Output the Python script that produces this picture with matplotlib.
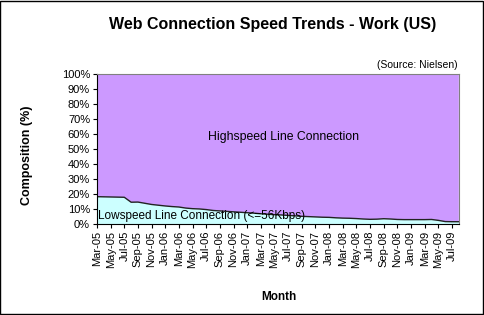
import matplotlib.pyplot as plt
from matplotlib.patches import Rectangle

plt.rcParams['font.family'] = ['Liberation Sans', 'DejaVu Sans']

# monthly, Mar-05 .. Aug-09
months = ['Mar-05', 'Apr-05', 'May-05', 'Jun-05', 'Jul-05', 'Aug-05', 'Sep-05', 'Oct-05', 'Nov-05', 'Dec-05',
          'Jan-06', 'Feb-06', 'Mar-06', 'Apr-06', 'May-06', 'Jun-06', 'Jul-06', 'Aug-06', 'Sep-06', 'Oct-06',
          'Nov-06', 'Dec-06', 'Jan-07', 'Feb-07', 'Mar-07', 'Apr-07', 'May-07', 'Jun-07', 'Jul-07', 'Aug-07',
          'Sep-07', 'Oct-07', 'Nov-07', 'Dec-07', 'Jan-08', 'Feb-08', 'Mar-08', 'Apr-08', 'May-08', 'Jun-08',
          'Jul-08', 'Aug-08', 'Sep-08', 'Oct-08', 'Nov-08', 'Dec-08', 'Jan-09', 'Feb-09', 'Mar-09', 'Apr-09',
          'May-09', 'Jun-09', 'Jul-09', 'Aug-09']
lowspeed = [18.2, 18.1, 18.0, 17.9, 17.8, 14.5, 14.6, 13.8, 13.0, 12.5,
            12.0, 11.6, 11.3, 10.6, 10.2, 10.0, 9.6, 9.0, 8.7, 8.4,
            8.1, 7.8, 7.5, 7.2, 6.8, 6.5, 6.2, 6.0, 5.7, 5.4,
            5.1, 4.9, 4.7, 4.5, 4.4, 4.1, 3.9, 3.8, 3.6, 3.3,
            3.1, 3.2, 3.5, 3.3, 3.0, 2.9, 2.9, 2.9, 2.9, 3.0,
            2.4, 1.6, 1.5, 1.5]
highspeed = [100 - v for v in lowspeed]

fig = plt.figure(figsize=(4.84, 3.15), dpi=100)
ax = fig.add_axes([0.2004, 0.289, 0.7476, 0.476])

x = list(range(len(months)))
ax.stackplot(x, lowspeed, highspeed, colors=['#CCFFFF', '#CC99FF'], linewidth=0)
ax.plot(x, lowspeed, color='#222222', lw=1)

ax.set_xlim(0, len(months) - 1)
ax.set_ylim(0, 100)
ax.set_yticks(range(0, 101, 10))
ax.set_yticklabels([f'{v}%' for v in range(0, 101, 10)], fontsize=8)
ax.set_xticks(x[::2])
ax.set_xticklabels(months[::2], rotation=90, fontsize=8)
ax.tick_params(axis='both', direction='out', length=3, width=0.8, pad=2)
for s in ['top', 'right']:
    ax.spines[s].set_color('#808080')
for s in ['left', 'bottom']:
    ax.spines[s].set_color('black')

ax.text(0.515, 0.58, 'Highspeed Line Connection', transform=ax.transAxes, ha='center', va='center', fontsize=8.8)
ax.text(0.003, 0.05, 'Lowspeed Line Connection (<=56Kbps)', transform=ax.transAxes, ha='left', va='center', fontsize=8.5)

fig.text(0.563, 0.921, 'Web Connection Speed Trends - Work (US)', ha='center', va='center', fontsize=11.5, fontweight='bold')
fig.text(0.945, 0.793, '(Source: Nielsen)', ha='right', va='center', fontsize=7.5)
fig.text(0.056, 0.508, 'Composition (%)', rotation=90, ha='center', va='center', fontsize=9, fontweight='bold')
fig.text(0.576, 0.057, 'Month', ha='center', va='center', fontsize=8.5, fontweight='bold')

fig.patches.append(Rectangle((0.001, 0.002), 0.997, 0.995, transform=fig.transFigure,
                             fill=False, edgecolor='black', lw=1))

fig.savefig('out.png', dpi=100)
